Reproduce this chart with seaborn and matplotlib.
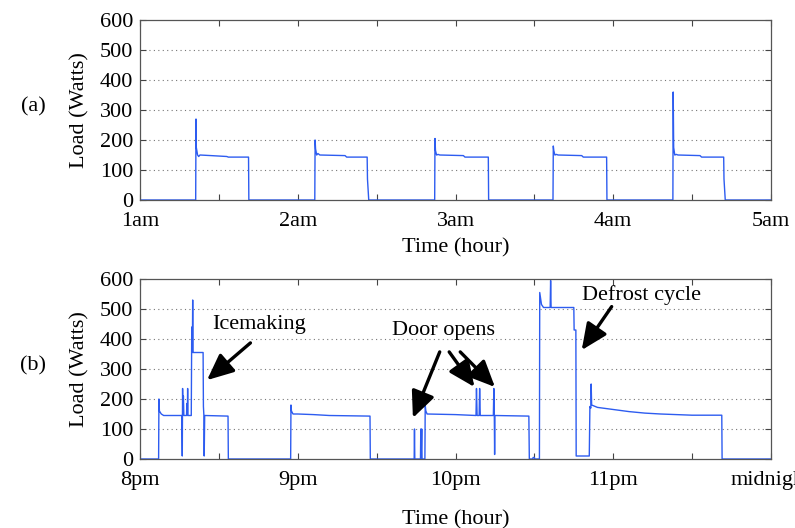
import matplotlib
matplotlib.use("Agg")
import matplotlib.pyplot as plt
import pandas as pd
import seaborn as sns

# panel (a): 1am - 5am, compressor cycles
hours_a = [1.0, 1.353, 1.355, 1.357, 1.365, 1.372, 1.38, 1.45, 1.55, 1.56, 1.688, 1.69,
           2.108, 2.11, 2.113, 2.12, 2.128, 2.14, 2.30, 2.31, 2.44, 2.442, 2.45,
           2.868, 2.87, 2.873, 2.88, 2.89, 2.90, 3.05, 3.06, 3.208, 3.21,
           3.618, 3.62, 3.623, 3.63, 3.64, 3.65, 3.80, 3.81, 3.958, 3.96,
           4.378, 4.38, 4.383, 4.39, 4.40, 4.41, 4.55, 4.56, 4.70, 4.702, 4.71, 5.0]
load_a = [0, 0, 270, 175, 150, 145, 150, 148, 145, 143, 143, 0,
          0, 200, 170, 150, 155, 150, 148, 143, 143, 70, 0,
          0, 205, 165, 150, 152, 150, 148, 143, 143, 0,
          0, 180, 165, 150, 152, 150, 148, 143, 143, 0,
          0, 360, 175, 150, 152, 150, 148, 143, 143, 70, 0, 0]

# panel (b): 8pm - midnight, icemaking, door openings, defrost
hours_b = [20.0, 20.118, 20.12, 20.123, 20.135, 20.15, 20.265, 20.268, 20.27, 20.272,
           20.275, 20.278, 20.295, 20.297, 20.30, 20.302, 20.304, 20.325, 20.328, 20.332,
           20.334, 20.336, 20.40, 20.402, 20.405, 20.407, 20.41, 20.558, 20.56,
           20.955, 20.957, 20.96, 20.97, 21.0, 21.1, 21.2, 21.458, 21.46,
           21.738, 21.74, 21.742, 21.778, 21.78, 21.782, 21.786, 21.788, 21.806,
           21.808, 21.812, 21.82, 22.0, 22.13, 22.133, 22.137, 22.15, 22.153, 22.157,
           22.24, 22.243, 22.246, 22.248, 22.25, 22.465, 22.468, 22.49, 22.492, 22.5, 22.502,
           22.532, 22.534, 22.545, 22.558, 22.6, 22.603, 22.606, 22.75, 22.752, 22.763,
           22.765, 22.848, 22.852, 22.858, 22.86, 22.863, 22.9, 23.0, 23.1, 23.2, 23.3,
           23.4, 23.5, 23.688, 23.69, 24.0]
load_b = [0, 0, 200, 160, 150, 145, 145, 10, 235, 145,
          210, 145, 145, 185, 145, 235, 145, 145, 440, 355,
          530, 355, 355, 175, 145, 10, 145, 143, 0,
          0, 180, 160, 150, 150, 148, 145, 143, 0,
          0, 100, 0, 0, 100, 0, 100, 0, 0,
          180, 160, 150, 148, 145, 235, 145, 145, 235, 145,
          145, 235, 145, 15, 145, 143, 0, 0, 5, 5, 0,
          0, 555, 515, 505, 505, 595, 505, 505, 430, 430,
          10, 10, 175, 170, 250, 180, 172, 165, 158, 153, 150,
          148, 146, 146, 0, 0]

ticks_a = [1, 2, 3, 4, 5]
labels_a = ["1am", "2am", "3am", "4am", "5am"]
ticks_b = [20, 21, 22, 23, 24]
labels_b = ["8pm", "9pm", "10pm", "11pm", "midnight"]
y_ticks = [0, 100, 200, 300, 400, 500, 600]

sns.set_style("ticks")
plt.rcParams["font.family"] = ["Liberation Serif", "DejaVu Serif"]
plt.rcParams["font.size"] = 16
plt.rcParams["text.color"] = "black"
plt.rcParams["axes.labelcolor"] = "black"

line_color = "#2d5cf0"
fig = plt.figure(figsize=(7.95, 5.28), dpi=100)
ax1 = fig.add_axes([140 / 795, 1 - 200 / 528, 631 / 795, 180 / 528])
ax2 = fig.add_axes([140 / 795, 1 - 459 / 528, 631 / 795, 180 / 528])

df_a = pd.DataFrame({"hour": hours_a, "load": load_a})
df_b = pd.DataFrame({"hour": hours_b, "load": load_b})
sns.lineplot(data=df_a, x="hour", y="load", estimator=None, sort=False,
             color=line_color, linewidth=1.0, ax=ax1)
sns.lineplot(data=df_b, x="hour", y="load", estimator=None, sort=False,
             color=line_color, linewidth=1.0, ax=ax2)

for ax, ticks, labels, tag, xpad in [(ax1, ticks_a, labels_a, "(a)", 5),
                                     (ax2, ticks_b, labels_b, "(b)", 14)]:
    ax.set_xlim(ticks[0], ticks[-1])
    ax.set_ylim(0, 600)
    ax.set_xticks(ticks)
    ax.set_xticklabels(labels)
    ax.set_xticks([t + 0.5 for t in ticks[:-1]], minor=True)
    ax.set_yticks(y_ticks)
    ax.tick_params(direction="in", top=True, right=True, length=4, width=0.8,
                   colors="#444444", labelcolor="black", labelsize=16, pad=5)
    ax.tick_params(axis="x", pad=9)
    ax.tick_params(which="minor", direction="in", top=True, length=4, width=0.8,
                   colors="#444444")
    for y in y_ticks[1:-1]:
        ax.axhline(y, color="#777777", linestyle=(0, (1, 3)), linewidth=0.8, zorder=0)
    for sp in ax.spines.values():
        sp.set_color("#555555")
        sp.set_linewidth(0.9)
    ax.set_xlabel("Time (hour)", fontsize=16, labelpad=xpad)
    ax.set_ylabel("Load (Watts)", fontsize=16, labelpad=7)
    fig.text(33 / 795, ax.get_position().y0 + ax.get_position().height * 0.52, tag,
             fontsize=16, ha="center", va="center")

arrow = dict(arrowstyle="-|>,head_length=1.0,head_width=0.45", color="black", lw=2.4,
             shrinkA=0, shrinkB=0)
ax2.text(20.46, 447, "Icemaking", fontsize=16, ha="left", va="center")
ax2.annotate("", xy=(20.425, 263), xytext=(20.70, 387), arrowprops=arrow)

ax2.text(21.60, 430, "Door opens", fontsize=16, ha="left", va="center")
ax2.annotate("", xy=(21.73, 137), xytext=(21.90, 357), arrowprops=arrow)
ax2.annotate("", xy=(22.12, 240), xytext=(21.96, 357), arrowprops=arrow)
ax2.annotate("", xy=(22.25, 240), xytext=(22.03, 357), arrowprops=arrow)

ax2.text(22.80, 547, "Defrost cycle", fontsize=16, ha="left", va="center")
ax2.annotate("", xy=(22.80, 363), xytext=(22.99, 508), arrowprops=arrow)

plt.savefig("out.png", dpi=100)
